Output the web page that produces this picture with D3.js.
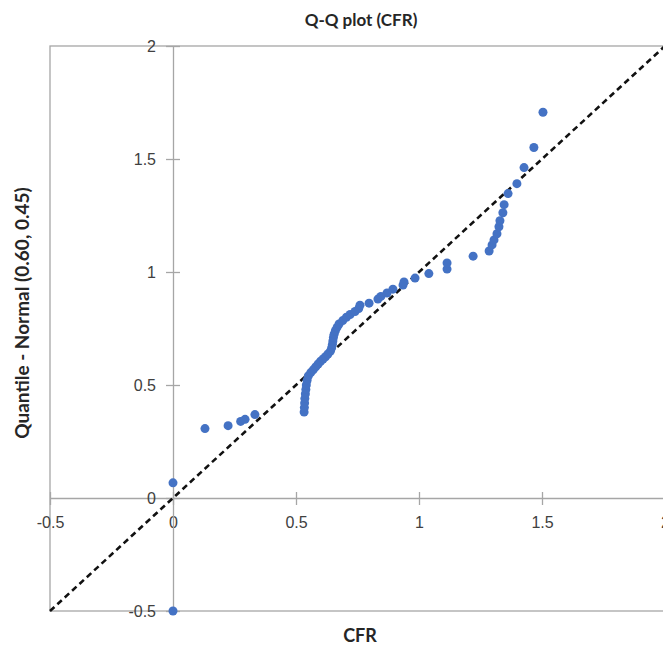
<!DOCTYPE html>
<html>
<head>
<meta charset="utf-8">
<script src="https://d3js.org/d3.v7.min.js"></script>
<style>
  body { margin: 0; background: #fff; }
  svg { display: block; font-family: Lato, "Open Sans", sans-serif; }
</style>
</head>
<body>
<div id="chart"></div>
<script>
// Observed CFR values (x) and normal quantiles (y)
const cfr = [0, 0, 0.13, 0.224, 0.275, 0.293, 0.333,
  0.533, 0.534, 0.535, 0.536, 0.538, 0.54, 0.542, 0.545,
  0.55, 0.56, 0.57, 0.58, 0.59, 0.60, 0.61, 0.62, 0.63, 0.64,
  0.645, 0.648, 0.65, 0.652, 0.655, 0.66, 0.667, 0.675, 0.69, 0.705,
  0.72, 0.74, 0.755, 0.76, 0.797, 0.833, 0.845, 0.87, 0.894, 0.935,
  0.939, 0.984, 1.04, 1.114, 1.114, 1.22, 1.285, 1.297, 1.305, 1.317,
  1.325, 1.329, 1.341, 1.346, 1.362, 1.398, 1.427, 1.467, 1.504];
const quantile = [-0.5, 0.067, 0.307, 0.32, 0.339, 0.348, 0.369,
  0.38, 0.40, 0.42, 0.44, 0.46, 0.48, 0.50, 0.52,
  0.54, 0.555, 0.567, 0.58, 0.593, 0.605, 0.615, 0.625, 0.637, 0.65,
  0.665, 0.68, 0.695, 0.71, 0.725, 0.74, 0.755, 0.77, 0.785, 0.80,
  0.812, 0.825, 0.838, 0.853, 0.862, 0.88, 0.892, 0.907, 0.924, 0.942,
  0.956, 0.973, 0.993, 1.013, 1.04, 1.07, 1.093, 1.12, 1.142, 1.169,
  1.2, 1.227, 1.262, 1.298, 1.347, 1.391, 1.462, 1.551, 1.707];
const xTicks = [-0.5, 0, 0.5, 1, 1.5, 2];
const yTicks = [-0.5, 0, 0.5, 1, 1.5, 2];

const W = 663, H = 651;
const svg = d3.select('#chart').append('svg').attr('width', W).attr('height', H);

const x = d3.scaleLinear().domain([-0.5, 2]).range([50, 665]);
const y = d3.scaleLinear().domain([-0.5, 2]).range([611, 46]);
const gray = '#a6a6a6';
const fmt = d => String(d); // plain hyphen for negatives, as in the original

// Outer frame
svg.append('rect')
  .attr('x', x(-0.5)).attr('y', y(2))
  .attr('width', x(2) - x(-0.5)).attr('height', y(-0.5) - y(2))
  .attr('fill', 'none').attr('stroke', gray).attr('stroke-width', 1.3);

// X axis through y = 0
const xAxis = svg.append('g').attr('transform', `translate(0,${y(0)})`)
  .call(d3.axisBottom(x).tickValues(xTicks).tickSize(0).tickPadding(19).tickFormat(fmt));
xAxis.select('.domain').attr('stroke', gray).attr('stroke-width', 1.3);
xAxis.selectAll('.tick').append('line')
  .attr('y1', -6).attr('y2', 7).attr('stroke', gray).attr('stroke-width', 1.3);
xAxis.selectAll('text').attr('fill', '#404040').style('font-size', '16px');

// Y axis through x = 0
const yAxis = svg.append('g').attr('transform', `translate(${x(0)},0)`)
  .call(d3.axisLeft(y).tickValues(yTicks).tickSize(0).tickPadding(17).tickFormat(fmt));
yAxis.select('.domain').attr('stroke', gray).attr('stroke-width', 1.3);
yAxis.selectAll('.tick').append('line')
  .attr('x1', -7).attr('x2', 7).attr('stroke', gray).attr('stroke-width', 1.3);
yAxis.selectAll('text').attr('fill', '#404040').style('font-size', '16px');

// Reference line y = x
svg.append('line')
  .attr('x1', x(-0.5)).attr('y1', y(-0.5))
  .attr('x2', x(2)).attr('y2', y(2))
  .attr('stroke', '#111').attr('stroke-width', 2.6)
  .attr('stroke-dasharray', '6,4');

// Points
svg.append('g').selectAll('circle')
  .data(cfr.map((v, i) => [v, quantile[i]]))
  .join('circle')
  .attr('cx', d => x(d[0]))
  .attr('cy', d => y(d[1]))
  .attr('r', 4.5)
  .attr('fill', '#4472c4');

// Titles
svg.append('text')
  .attr('x', 361).attr('y', 26)
  .attr('text-anchor', 'middle')
  .attr('font-weight', 'bold').attr('font-size', 17).attr('fill', '#262626')
  .text('Q-Q plot (CFR)');

svg.append('text')
  .attr('x', 360).attr('y', 642)
  .attr('text-anchor', 'middle')
  .attr('font-weight', 'bold').attr('font-size', 18).attr('fill', '#262626')
  .text('CFR');

svg.append('text')
  .attr('transform', 'translate(29,313) rotate(-90)')
  .attr('text-anchor', 'middle')
  .attr('font-weight', 'bold').attr('font-size', 19).attr('fill', '#262626')
  .text('Quantile - Normal (0.60, 0.45)');
</script>
</body>
</html>
